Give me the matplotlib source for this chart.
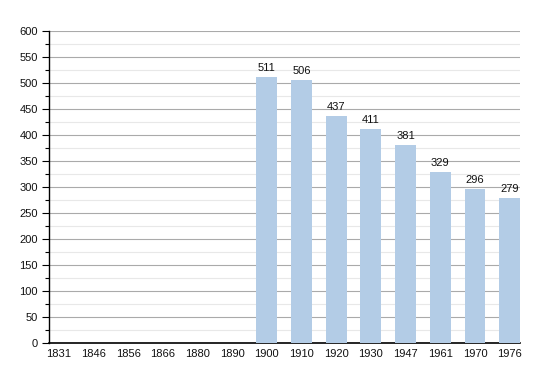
import matplotlib
matplotlib.use("Agg")
import matplotlib.pyplot as plt
import numpy as np

years = ["1831", "1846", "1856", "1866", "1880", "1890", "1900", "1910",
         "1920", "1930", "1947", "1961", "1970", "1976"]
population = [0, 0, 0, 0, 0, 0, 511, 506, 437, 411, 381, 329, 296, 279]
y_ticks = list(range(0, 601, 50))

plt.rcParams['font.family'] = ['Liberation Sans', 'DejaVu Sans']

fig = plt.figure(figsize=(5.5, 3.73), dpi=100)
ax = fig.add_axes([49/550, 30/373, (520-49)/550, (343-31)/373])

x = np.arange(len(years))
bars = ax.bar(x, population, width=0.6, color="#b3cce6", linewidth=0, zorder=3)

for xi, v in zip(x, population):
    if v > 0:
        ax.annotate(str(v), (xi, v), xytext=(0, 3), textcoords="offset points",
                    ha="center", va="bottom", fontsize=8, color="#111111", zorder=4)

ax.set_xlim(-0.28, 13.3)
ax.set_ylim(0, 600)
ax.set_xticks(x)
ax.set_xticklabels(years, fontsize=8)
ax.set_yticks(y_ticks)
ax.set_yticklabels([str(t) for t in y_ticks], fontsize=8)
ax.set_yticks(np.arange(25, 600, 50), minor=True)

ax.grid(axis="y", which="major", color="#aaaaaa", linewidth=0.8, zorder=1)
ax.grid(axis="y", which="minor", color="#e8e8e8", linewidth=0.8, zorder=1)
ax.set_axisbelow(True)

for s in ["top", "right"]:
    ax.spines[s].set_visible(False)
ax.spines["left"].set_color("black")
ax.spines["bottom"].set_color("black")
ax.spines["left"].set_linewidth(1)
ax.spines["bottom"].set_linewidth(1.2)

ax.tick_params(axis="x", length=0, pad=4, colors="#111111")
ax.tick_params(axis="y", which="major", length=5, width=0.8, pad=3, labelcolor="#111111")
ax.tick_params(axis="y", which="minor", length=3, width=0.8)

fig.savefig("out.png", dpi=100)
